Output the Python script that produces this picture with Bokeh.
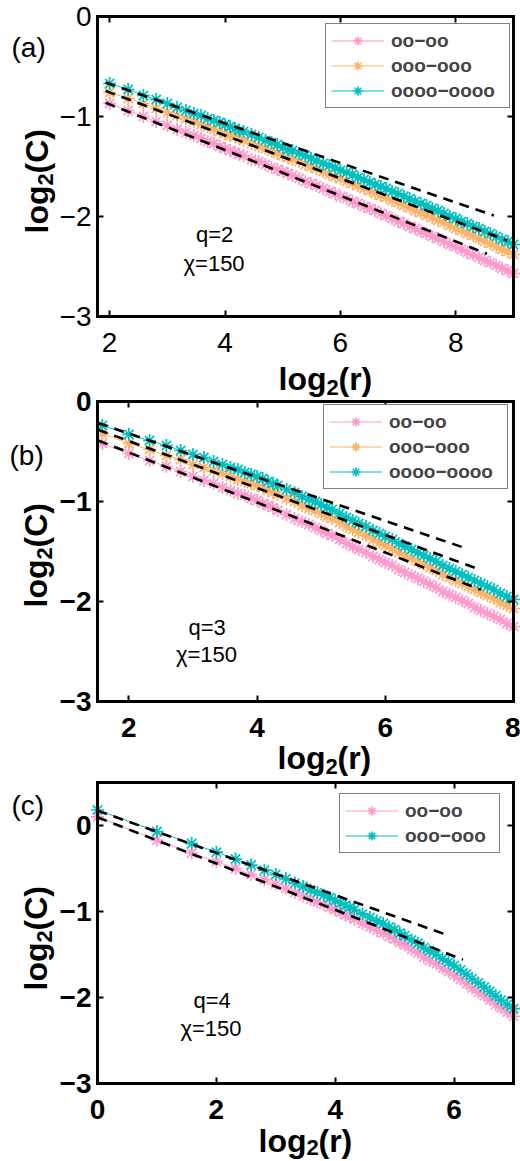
import numpy as np
from bokeh.plotting import figure
from bokeh.models import (Range1d, Label, Legend, LegendItem, LinearAxis,
                          FixedTicker)
from bokeh.embed import file_html
from bokeh.resources import INLINE

# ---------------- data ----------------
# panel (a): q=2
r_a = [4, 5, 6, 7, 8, 9, 10, 11, 12, 13, 14, 15, 16, 17, 18, 19, 20,
       22, 24, 26, 28, 30, 32, 34, 36, 39, 42, 45, 48, 52, 56, 60, 64,
       69, 74, 79, 85, 91, 97, 104, 111, 119, 128, 137, 147, 157, 168, 180, 193,
       207, 222, 238, 256, 274, 294, 315, 338, 362, 388, 416, 446, 478, 512]
a_oo = [-0.87, -0.94, -1.00, -1.05, -1.09, -1.13, -1.16, -1.19, -1.22, -1.25, -1.27, -1.30, -1.32,
        -1.34, -1.36, -1.38, -1.39, -1.43, -1.45, -1.48, -1.51, -1.53, -1.55, -1.57, -1.59,
        -1.62, -1.65, -1.67, -1.69, -1.72, -1.75, -1.77, -1.80, -1.82, -1.85, -1.87, -1.90,
        -1.92, -1.94, -1.97, -1.99, -2.02, -2.05, -2.07, -2.10, -2.12, -2.15, -2.17, -2.20,
        -2.22, -2.25, -2.28, -2.30, -2.33, -2.36, -2.38, -2.41, -2.44, -2.46, -2.49, -2.52,
        -2.54, -2.57]
a_ooo = [-0.76, -0.82, -0.87, -0.92, -0.96, -0.99, -1.02, -1.05, -1.08, -1.10, -1.13, -1.15, -1.17,
         -1.19, -1.20, -1.22, -1.24, -1.27, -1.30, -1.32, -1.35, -1.37, -1.39, -1.41, -1.43,
         -1.45, -1.48, -1.50, -1.52, -1.55, -1.58, -1.60, -1.62, -1.65, -1.67, -1.69, -1.72,
         -1.74, -1.77, -1.79, -1.81, -1.84, -1.86, -1.89, -1.91, -1.94, -1.96, -1.99, -2.01,
         -2.04, -2.06, -2.09, -2.12, -2.14, -2.17, -2.19, -2.22, -2.25, -2.27, -2.30, -2.33,
         -2.35, -2.38]
a_oooo = [-0.67, -0.73, -0.79, -0.83, -0.87, -0.91, -0.94, -0.97, -0.99, -1.02, -1.04, -1.06, -1.08,
          -1.10, -1.12, -1.14, -1.15, -1.18, -1.21, -1.24, -1.26, -1.28, -1.31, -1.33, -1.34,
          -1.37, -1.39, -1.42, -1.44, -1.47, -1.49, -1.51, -1.54, -1.56, -1.58, -1.61, -1.63,
          -1.66, -1.68, -1.70, -1.72, -1.75, -1.77, -1.80, -1.82, -1.85, -1.87, -1.89, -1.92,
          -1.94, -1.97, -2.00, -2.02, -2.05, -2.07, -2.10, -2.12, -2.15, -2.17, -2.20, -2.23,
          -2.25, -2.28]
a_fit_x = [[1.93, 8.66], [1.93, 8.89], [1.93, 8.54]]
a_fit_y = [[-0.66, -1.99], [-0.744, -2.24], [-0.862, -2.373]]

# panel (b): q=3
r_b = [3, 4, 5, 6, 7, 8, 9, 10, 11, 12, 13, 14, 15, 16, 17, 18, 19, 20,
       22, 24, 26, 28, 30, 32, 34, 36, 39, 42, 45, 48, 52, 56, 60, 64,
       69, 74, 79, 85, 91, 97, 104, 111, 119, 128, 137, 147, 157, 168, 180, 193,
       207, 222, 238, 256]
b_oo = [-0.42, -0.52, -0.59, -0.65, -0.70, -0.75, -0.79, -0.82, -0.86, -0.89, -0.92, -0.94,
        -0.97, -0.99, -1.02, -1.04, -1.06, -1.09, -1.13, -1.17, -1.20, -1.23, -1.26, -1.29,
        -1.32, -1.34, -1.38, -1.42, -1.45, -1.48, -1.51, -1.55, -1.58, -1.61, -1.64, -1.68,
        -1.71, -1.74, -1.77, -1.80, -1.83, -1.86, -1.90, -1.93, -1.96, -1.99, -2.02, -2.06,
        -2.09, -2.12, -2.15, -2.18, -2.22, -2.25]
b_ooo = [-0.32, -0.42, -0.48, -0.54, -0.58, -0.63, -0.66, -0.69, -0.72, -0.75, -0.78, -0.80,
         -0.82, -0.84, -0.86, -0.89, -0.91, -0.93, -0.97, -1.00, -1.04, -1.07, -1.09, -1.12,
         -1.15, -1.17, -1.21, -1.25, -1.28, -1.31, -1.34, -1.38, -1.41, -1.44, -1.47, -1.51,
         -1.54, -1.57, -1.60, -1.63, -1.66, -1.69, -1.73, -1.76, -1.79, -1.82, -1.85, -1.88,
         -1.91, -1.94, -1.97, -2.01, -2.04, -2.07]
b_oooo = [-0.24, -0.33, -0.39, -0.44, -0.49, -0.53, -0.56, -0.60, -0.63, -0.66, -0.68, -0.71,
          -0.73, -0.75, -0.77, -0.80, -0.82, -0.84, -0.88, -0.91, -0.95, -0.98, -1.00, -1.03,
          -1.06, -1.08, -1.12, -1.16, -1.19, -1.22, -1.25, -1.29, -1.32, -1.35, -1.38, -1.42,
          -1.45, -1.48, -1.51, -1.54, -1.57, -1.60, -1.64, -1.67, -1.70, -1.73, -1.76, -1.79,
          -1.82, -1.85, -1.88, -1.92, -1.95, -1.98]
b_fit_x = [[1.52, 7.28], [1.52, 7.44], [1.52, 7.49]]
b_fit_y = [[-0.216, -1.473], [-0.283, -1.673], [-0.39, -1.883]]

# panel (c): q=4
r_c = [1, 2, 3, 4, 5, 6, 7, 8, 9, 10, 11, 12, 13, 14, 15, 16, 17, 18, 19, 20,
       22, 24, 26, 28, 30, 32, 34, 36, 39, 42, 45, 48, 52, 56, 60, 64,
       69, 74, 79, 85, 91, 97, 104, 111, 119, 128]
c_oo = [0.10, -0.17, -0.32, -0.42, -0.50, -0.57, -0.63, -0.68, -0.73, -0.78, -0.82, -0.86,
        -0.89, -0.92, -0.95, -0.98, -1.01, -1.04, -1.06, -1.09, -1.14, -1.18, -1.22, -1.25,
        -1.29, -1.32, -1.36, -1.39, -1.44, -1.48, -1.53, -1.57, -1.61, -1.66, -1.70, -1.74,
        -1.79, -1.84, -1.89, -1.94, -1.98, -2.03, -2.08, -2.12, -2.17, -2.22]
c_ooo = [0.18, -0.07, -0.21, -0.31, -0.39, -0.46, -0.52, -0.57, -0.62, -0.67, -0.71, -0.75,
         -0.78, -0.81, -0.84, -0.87, -0.90, -0.93, -0.95, -0.98, -1.03, -1.07, -1.11, -1.14,
         -1.18, -1.21, -1.25, -1.28, -1.33, -1.37, -1.42, -1.46, -1.50, -1.55, -1.59, -1.63,
         -1.68, -1.73, -1.78, -1.83, -1.88, -1.93, -1.98, -2.03, -2.08, -2.13]
c_fit_x = [[0.0, 5.87], [0.0, 6.15]]
c_fit_y = [[0.173, -1.27], [0.096, -1.56]]

# ticks
a_xticks = [2, 4, 6, 8]
b_xticks = [2, 4, 6, 8]
c_xticks = [0, 2, 4, 6]
y_ticks = [-3, -2, -1, 0]
y_tick_labels = ["\u22123", "\u22122", "\u22121", "0"]

labels3 = ["oo\u2212oo", "ooo\u2212ooo", "oooo\u2212oooo"]
labels2 = ["oo\u2212oo", "ooo\u2212ooo"]

PINK = "#ff99cc"
ORANGE = "#ffb266"
TEAL = "#00bfbf"
FONT = "Liberation Sans"

# ---------------- one canvas, three panels ----------------
W, H = 520, 1161          # Bokeh's page template has no body margin
PAGE0 = 0

p = figure(width=W, height=H, output_backend="svg", toolbar_location=None,
           x_axis_location=None, y_axis_location=None,
           x_range=Range1d(0, W), y_range=Range1d(0, H),
           min_border=0, min_border_left=0, min_border_right=0,
           min_border_top=0, min_border_bottom=0)
p.grid.visible = False
p.outline_line_color = None
p.background_fill_color = "white"
p.border_fill_color = "white"


def cy(page_y):
    """page y (from top) -> screen y for Labels (from canvas bottom)"""
    return PAGE0 + H - page_y


def cx(page_x):
    return page_x - PAGE0


def setup_panel(name, box, xr, yr, xticks, bold_ticks):
    left, right, top, bottom = box
    sx = (right - left) / (xr[1] - xr[0])
    sy = (bottom - top) / (yr[1] - yr[0])
    p.extra_x_ranges[name] = Range1d(xr[0] - (left - PAGE0) / sx,
                                     xr[0] + (PAGE0 + W - left) / sx)
    p.extra_y_ranges[name] = Range1d(yr[0] - (PAGE0 + H - bottom) / sy,
                                     yr[1] + (top - PAGE0) / sy)
    style = "bold" if bold_ticks else "normal"
    specs = [("below", yr[0], xticks, [str(t) for t in xticks], xr, True),
             ("left", xr[0], y_ticks, y_tick_labels, yr, True),
             ("above", yr[1], xticks, None, xr, False),
             ("right", xr[1], y_ticks, None, yr, False)]
    for side, loc, ticks, labs, bnds, show in specs:
        ax = LinearAxis(x_range_name=name, y_range_name=name, fixed_location=loc,
                        bounds=bnds, ticker=FixedTicker(ticks=ticks),
                        minor_tick_line_color=None, major_tick_in=6, major_tick_out=0,
                        major_tick_line_width=2, axis_line_width=3,
                        axis_line_color="black", axis_line_cap="square",
                        major_label_text_font=FONT, major_label_text_font_size="28px",
                        major_label_text_font_style=style,
                        major_label_text_color="black")
        if show:
            ax.major_label_overrides = {t: l for t, l in zip(ticks, labs)}
            ax.major_label_standoff = 16 if side == "below" else 6
        else:
            ax.major_label_text_color = None
        p.add_layout(ax, side)


def add_series(name, r, ys, colors):
    x = np.log2(np.array(r, dtype=float))
    rends = []
    for y, c in zip(ys, colors):
        ln = p.line(x, y, line_color=c, line_width=1,
                    x_range_name=name, y_range_name=name)
        sc = p.scatter(x, y, marker="asterisk", size=13, line_color=c, line_width=1.7,
                       x_range_name=name, y_range_name=name)
        rends.append([ln, sc])
    return rends


def add_fits(name, xs, ys):
    p.multi_line(xs, ys, line_color="black", line_width=2.6, line_dash="10 7",
                 x_range_name=name, y_range_name=name)


def add_legend(rends, labels, loc):
    items = [LegendItem(label=l, renderers=r) for l, r in zip(labels, rends)]
    lg = Legend(items=items, location=loc, orientation="vertical",
                label_text_font=FONT, label_text_font_size="19px",
                label_text_font_style="bold", label_height=23, glyph_height=23,
                glyph_width=53, label_standoff=7, padding=5, spacing=2,
                label_width=113 if len(labels) == 3 else 89,
                border_line_color="black", border_line_width=1.5,
                background_fill_color="white", background_fill_alpha=1.0)
    p.add_layout(lg)


def add_text(x, y, text, size, style="normal", angle=0.0, align="left",
             units="screen", name="default"):
    p.add_layout(Label(x=x, y=y, x_units=units, y_units=units, text=text,
                       x_range_name=name, y_range_name=name,
                       text_font=FONT, text_font_size=size, text_font_style=style,
                       text_color="black", angle=angle, text_align=align,
                       text_baseline="alphabetic"))


def add_axis_labels(xlab, ylab, sub_drop=9):
    # x label  log_2(r): start (page x) and baseline (page y)
    px, py = xlab
    add_text(cx(px), cy(py), "log", "32px", "bold")
    add_text(cx(px) + 48, cy(py) - sub_drop, "2", "22px", "bold")
    add_text(cx(px) + 60, cy(py), "(r)", "32px", "bold")
    # y label  log_2(C): baseline (page x) and start (page y), rotated
    qx, qy = ylab
    add_text(cx(qx), cy(qy), "log", "32px", "bold", angle=np.pi / 2)
    add_text(cx(qx) + 9, cy(qy) + 48, "2", "22px", "bold", angle=np.pi / 2)
    add_text(cx(qx), cy(qy) + 60, "(C)", "32px", "bold", angle=np.pi / 2)


def add_info(name, qtext, qpos, cpos):
    add_text(qpos[0], qpos[1], qtext, "22px", align="center", units="data", name=name)
    add_text(cpos[0], cpos[1], "\u03c7=150", "22px", align="center", units="data", name=name)


# ---------------- panel (a) ----------------
setup_panel("a", (97, 513, 16, 316), (1.79, 9.0), (-3.0, 0.0), a_xticks, False)
ra = add_series("a", r_a, [a_oo, a_ooo, a_oooo], [PINK, ORANGE, TEAL])
add_fits("a", a_fit_x, a_fit_y)
add_legend(ra, labels3, (cx(325), cy(108)))
add_axis_labels((278, 378), (36, 233))
add_text(cx(11), cy(47), "(a)", "28px")
add_info("a", "q=2", (3.82, -2.183), (3.81, -2.473))

# ---------------- panel (b) ----------------
setup_panel("b", (97, 513, 401, 701), (1.51, 8.0), (-3.0, 0.0), b_xticks, True)
rb = add_series("b", r_b, [b_oo, b_ooo, b_oooo], [PINK, ORANGE, TEAL])
add_fits("b", b_fit_x, b_fit_y)
add_legend(rb, labels3, (cx(323), cy(489)))
add_axis_labels((277, 757), (35, 607))
add_text(cx(9), cy(455), "(b)", "28px")
add_info("b", "q=3", (3.22, -2.257), (3.21, -2.533))

# ---------------- panel (c) ----------------
setup_panel("c", (97, 513, 782, 1083), (0.0, 7.0), (-3.0, 0.5), c_xticks, True)
rc = add_series("c", r_c, [c_oo, c_ooo], [PINK, TEAL])
add_fits("c", c_fit_x, c_fit_y)
add_legend(rc, labels2, (cx(339), cy(853)))
add_axis_labels((258, 1140), (35, 990), sub_drop=7)
add_text(cx(11), cy(805), "(c)", "28px")
add_info("c", "q=4", (1.93, -2.035), (1.91, -2.358))

open("out.html", "w").write(file_html(p, INLINE))
